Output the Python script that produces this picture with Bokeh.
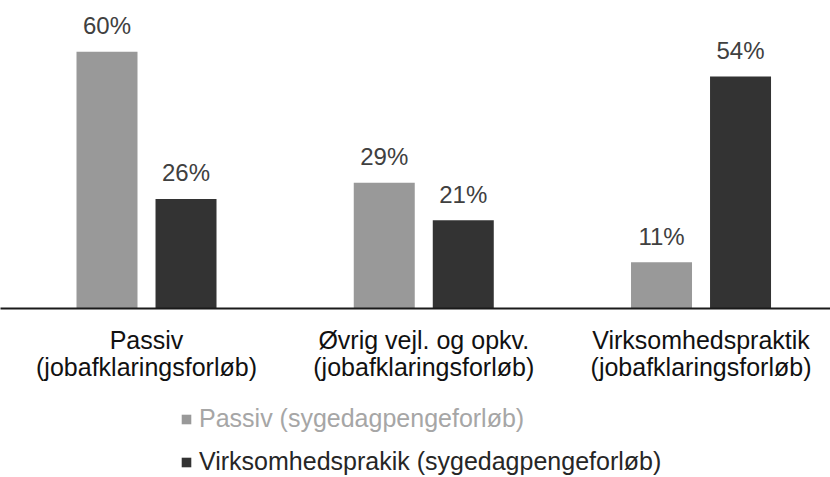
from bokeh.plotting import figure
from bokeh.models import (Range1d, FixedTicker, Legend, LegendItem,
                          ColumnDataSource, LinearAxis)
from bokeh.layouts import column
from bokeh.core.properties import value
from bokeh.embed import file_html
from bokeh.resources import INLINE
import numpy as np

# ---- data ----
category_line1 = ["Passiv", "Øvrig vejl. og opkv.", "Virksomhedspraktik"]
category_line2 = ["(jobafklaringsforløb)", "(jobafklaringsforløb)",
                  "(jobafklaringsforløb)"]
series_names = ["Passiv (sygedagpengeforløb)",
                "Virksomhedsprakik (sygedagpengeforløb)"]
passiv_syg = [60.0, 29.4, 10.8]
virksomhed_syg = [25.6, 20.6, 54.2]
series_values = [passiv_syg, virksomhed_syg]

# ---- style ----
bar_colors = ["#999999", "#333333"]
legend_text_colors = ["#a6a6a6", "#262626"]
FONT = "Liberation Sans"
BAR_W = 0.22
OFFSET = 0.1425
W = 830

p = figure(width=W, height=388, output_backend="svg", toolbar_location=None,
           x_range=Range1d(-0.5266, 2.467), y_range=Range1d(0, 71.96),
           y_axis_location=None,
           min_border_left=0, min_border_right=0, min_border_top=0,
           min_border_bottom=80)
p.outline_line_color = None
p.xgrid.visible = False
p.ygrid.visible = False

idx = np.arange(len(category_line1))
sources = []
for k, (vals, col) in enumerate(zip(series_values, bar_colors)):
    xs = idx + (-OFFSET if k == 0 else OFFSET)
    src = ColumnDataSource(dict(x=xs, top=vals,
                                lab=[f"{round(v):d}%" for v in vals]))
    sources.append(src)
    p.vbar(x="x", top="top", bottom=0, width=BAR_W, source=src,
           fill_color=col, line_color=None)
    p.text(x="x", y="top", text="lab", source=src, text_align="center",
           text_baseline="alphabetic", y_offset=-26, text_font_size="24px",
           text_color="#404040", text_font=value(FONT))


def style_axis(ax, labels, standoff, show_line):
    ax.ticker = FixedTicker(ticks=[int(i) for i in idx])
    ax.major_label_overrides = {int(i): t for i, t in zip(idx, labels)}
    ax.major_tick_line_color = None
    ax.minor_tick_line_color = None
    ax.major_tick_out = 0
    ax.major_tick_in = 0
    if show_line:
        ax.axis_line_color = "#1a1a1a"
        ax.axis_line_width = 2
    else:
        ax.axis_line_color = None
    ax.major_label_standoff = standoff
    ax.major_label_text_font = FONT
    ax.major_label_text_font_size = "25px"
    ax.major_label_text_color = "#111111"


style_axis(p.xaxis[0], category_line1, 17, True)
ax2 = LinearAxis()
style_axis(ax2, category_line2, -4, False)
p.add_layout(ax2, "below")

# ---- legend strip below the chart ----
leg = figure(width=W, height=89, output_backend="svg", toolbar_location=None,
             x_range=Range1d(0, 1), y_range=Range1d(0, 1),
             x_axis_location=None, y_axis_location=None,
             min_border_left=0, min_border_right=0, min_border_top=0,
             min_border_bottom=0)
leg.outline_line_color = None
leg.xgrid.visible = False
leg.ygrid.visible = False

legend_locs = [(180, 44), (180, 1)]
for src, name, col, tc, loc in zip(sources, series_names, bar_colors,
                                   legend_text_colors, legend_locs):
    # hidden copy of the series, used only as the legend entry's swatch
    r = leg.vbar(x="x", top="top", bottom=0, width=BAR_W, source=src,
                 fill_color=col, line_color=None, visible=False)
    lg = Legend(items=[LegendItem(label=name, renderers=[r])], location=loc,
                border_line_color=None, background_fill_alpha=0,
                padding=0, margin=0, glyph_width=12, glyph_height=12,
                label_standoff=7, label_text_font=FONT,
                label_text_font_size="25px", label_text_color=tc)
    leg.add_layout(lg, "center")

layout = column(p, leg, spacing=0)
open("out.html", "w").write(file_html(layout, INLINE))
